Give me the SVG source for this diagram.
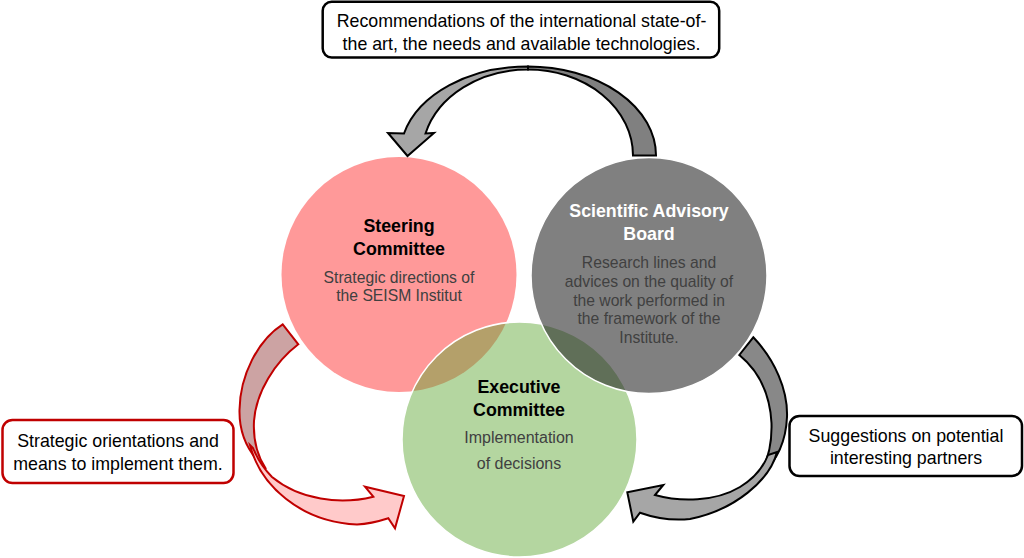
<svg xmlns="http://www.w3.org/2000/svg" width="1024" height="558" viewBox="0 0 1024 558">
<style>
text{font-family:"Liberation Sans",Arial,sans-serif;text-anchor:middle}
.title{font-size:17.8px;font-weight:bold;fill:#000}
.sub{font-size:15.7px;fill:#404040}
.call{font-size:17.8px;fill:#000}
.box{fill:#fff;stroke:#000;stroke-width:2.5}
.rbox{fill:#fff;stroke:#c00000;stroke-width:2.5}
.ga{stroke:#000;stroke-width:2;stroke-linejoin:miter}
.ra{stroke:#c00000;stroke-width:2;stroke-linejoin:miter}
</style>
<rect width="1024" height="558" fill="#fff"/>
<g id="steering">
<circle cx="399" cy="274.5" r="117.5" fill="#ff9999"/>
<text class="title" x="399" y="232">Steering</text>
<text class="title" x="399" y="255">Committee</text>
<text class="sub" x="399" y="283.3">Strategic directions of</text>
<text class="sub" x="399" y="301">the SEISM Institut</text>
</g>
<g id="executive">
<circle cx="519.5" cy="439.5" r="117.5" fill="rgb(96,168,53)" fill-opacity="0.47" stroke="#fff" stroke-width="1.5"/>
</g>
<g id="scientific">
<circle cx="649" cy="275.5" r="118" fill="rgb(36,36,36)" fill-opacity="0.58" stroke="#fff" stroke-width="1.5"/>
<text class="title" x="649" y="217.3" style="fill:#fff">Scientific Advisory</text>
<text class="title" x="649" y="240" style="fill:#fff">Board</text>
<text class="sub" x="649" y="268.3">Research lines and</text>
<text class="sub" x="649" y="286.7">advices on the quality of</text>
<text class="sub" x="649" y="305.5">the work performed in</text>
<text class="sub" x="649" y="324">the framework of the</text>
<text class="sub" x="649" y="342.7">Institute.</text>
</g>
<g id="executive-text">
<text class="title" x="519" y="393.3">Executive</text>
<text class="title" x="519" y="416">Committee</text>
<text class="sub" x="519" y="443.3" style="font-size:16px">Implementation</text>
<text class="sub" x="519" y="469.3" style="font-size:16px">of decisions</text>
</g>
<g id="connectors">
<path class="ga" fill="#808080" d="M656,155.5 A128,89 0 0 0 528,66.5 L528,69.5 A105,86 0 0 1 633,155.5 Z"/>
<path class="ga" fill="#a6a6a6" d="M528,66.5 A128,89 0 0 0 404,133.5 L388,133 L407.5,156 L434,133 L425.5,133.5 A106,86 0 0 1 528,69.5 Z"/>
<path class="ra" fill="#cca3a3" d="M282.7,324.3 L298.3,344.3 C275,362 256,392 254,421 C253,440 258,457 266,469 C250,455 239,435 239.5,410 C240,375 258,340 282.7,324.3 Z"/>
<path class="ra" fill="#ffcaca" d="M250,445 C260,485 300,522 357,524.5 C370,524 380,521 388.3,518.3 L395,528.3 L404,496 L365,486.7 L373.3,496.7 C340,505 300,500 272,477 C263,468 257,458 253,448 Z"/>
<path class="ga" fill="#888888" d="M753.3,337.3 C775,360 788,390 787,417 C786,440 778,462 757,478 C770,460 772,440 771.5,423 C770,395 760,372 739.3,355 Z"/>
<path class="ga" fill="#a6a6a6" d="M777,452 C770,480 735,510 690,519 C670,521 652,517 640,512.7 L633.3,521.7 L627.3,492.3 L663.3,485 L655,495 C680,502 715,502 740,487 C755,478 763,468 768,455 Z"/>
</g>
<g id="callout-top">
<rect class="box" x="322.7" y="1.8" width="396.5" height="55.7" rx="9"/>
<text class="call" x="521.5" y="26.7">Recommendations of the international state-of-</text>
<text class="call" x="521.5" y="50">the art, the needs and available technologies.</text>
</g>
<g id="callout-left">
<rect class="rbox" x="2.5" y="420" width="231" height="63" rx="10"/>
<text class="call" x="118" y="447.3">Strategic orientations and</text>
<text class="call" x="118" y="470">means to implement them.</text>
</g>
<g id="callout-right">
<rect class="box" x="789.5" y="416" width="232.5" height="60" rx="10"/>
<text class="call" x="906" y="441.7">Suggestions on potential</text>
<text class="call" x="906" y="464">interesting partners</text>
</g>
</svg>
